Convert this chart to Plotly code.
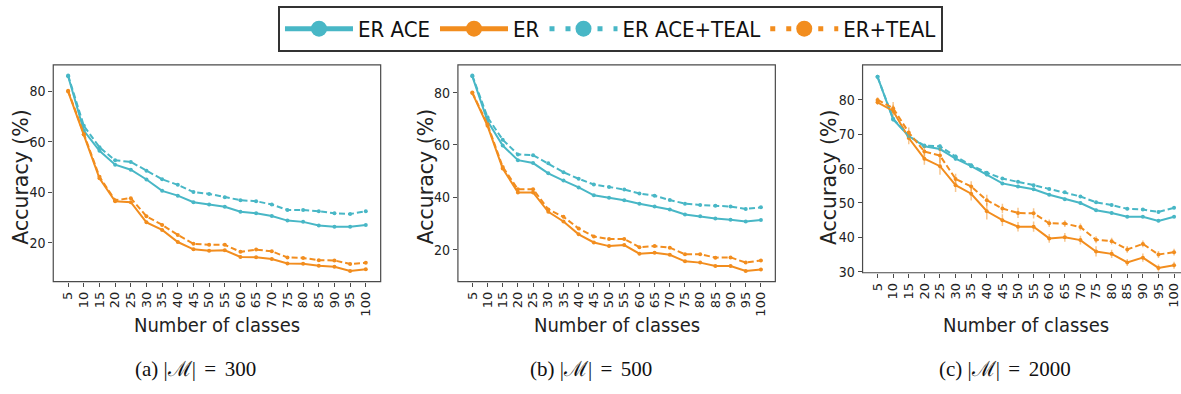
import plotly.graph_objects as go

classes = [5, 10, 15, 20, 25, 30, 35, 40, 45, 50, 55, 60, 65, 70, 75, 80, 85, 90, 95, 100]
tick_labels = [str(c) for c in classes]

# Panel (a) |M| = 300
a_er_ace = [86.1, 64.5, 56.5, 51.0, 49.0, 45.1, 40.6, 38.7, 36.1, 35.2, 34.3, 32.3, 31.7, 30.6, 28.8, 28.3, 26.9, 26.4, 26.4, 27.1]
a_er = [80.0, 63.0, 45.6, 36.5, 36.1, 28.1, 25.1, 20.3, 17.4, 16.8, 17.0, 14.4, 14.3, 13.6, 11.8, 11.7, 10.9, 10.5, 8.8, 9.5]
a_er_ace_teal = [86.4, 66.4, 57.9, 52.7, 52.1, 48.6, 45.2, 43.0, 40.1, 39.4, 38.1, 36.9, 36.5, 35.2, 33.0, 33.0, 32.5, 31.7, 31.4, 32.5]
a_er_teal = [80.3, 63.1, 46.2, 36.9, 37.7, 30.5, 27.1, 23.1, 19.6, 19.2, 19.2, 16.4, 17.3, 16.6, 14.2, 14.0, 13.1, 13.0, 11.6, 12.1]

# Panel (b) |M| = 500
b_er_ace = [86.2, 69.1, 59.8, 54.2, 53.1, 49.2, 46.4, 43.8, 40.8, 39.9, 38.9, 37.6, 36.5, 35.4, 33.5, 32.8, 31.9, 31.5, 30.8, 31.4]
b_er = [79.8, 67.3, 51.0, 41.9, 41.9, 34.5, 30.8, 25.9, 22.8, 21.4, 21.8, 18.5, 18.9, 18.1, 15.6, 15.1, 13.8, 13.8, 11.9, 12.5]
b_er_ace_teal = [86.5, 70.6, 62.0, 56.4, 56.1, 53.0, 49.6, 47.1, 44.9, 44.0, 43.0, 41.5, 40.6, 39.0, 37.6, 37.1, 36.8, 36.5, 35.6, 36.2]
b_er_teal = [80.0, 67.9, 51.6, 43.1, 43.1, 35.4, 32.6, 28.1, 25.1, 24.1, 24.1, 21.0, 21.4, 20.8, 18.3, 18.3, 17.0, 17.1, 15.1, 15.9]

# Panel (c) |M| = 2000
c_er_ace = [86.7, 74.3, 69.5, 66.5, 65.7, 62.9, 60.7, 58.3, 55.7, 54.8, 54.0, 52.4, 51.1, 50.0, 47.9, 47.1, 46.0, 46.0, 44.8, 46.0]
c_er = [79.3, 76.8, 68.9, 62.9, 60.7, 55.2, 52.7, 47.6, 45.0, 43.1, 43.1, 39.7, 40.0, 39.2, 35.9, 35.2, 32.7, 34.1, 31.1, 31.9]
c_er_ace_teal = [86.7, 74.5, 69.5, 66.7, 66.5, 63.5, 61.0, 58.8, 57.1, 56.2, 55.2, 54.1, 53.1, 51.9, 50.2, 49.4, 48.3, 48.1, 47.4, 48.6]
c_er_teal = [80.0, 77.6, 70.5, 65.0, 63.8, 57.0, 54.8, 50.8, 48.4, 47.1, 47.0, 44.1, 44.0, 43.0, 39.3, 38.9, 36.5, 38.1, 35.0, 35.7]

# error estimates (std)
a_err_small = [0.4] * 20
c_err_teal = [0.5, 0.6, 0.6, 0.5, 0.6, 0.6, 0.5, 0.5, 0.4, 0.4, 0.4, 0.4, 0.4, 0.4, 0.4, 0.4, 0.4, 0.4, 0.4, 0.4]
c_err_er = [0.8, 1.8, 1.8, 1.8, 2.5, 2.0, 2.0, 2.4, 1.7, 1.4, 1.5, 1.3, 1.3, 1.3, 1.5, 1.2, 1.0, 1.2, 1.0, 1.0]
c_err_er_teal = [0.8, 1.8, 1.5, 1.5, 2.2, 1.5, 1.5, 1.6, 1.4, 1.5, 1.5, 1.1, 1.0, 1.0, 1.0, 1.0, 1.0, 1.0, 1.0, 1.0]

series_names = ["ER ACE", "ER", "ER ACE+TEAL", "ER+TEAL"]
captions = ["(a) |ℳ|\u2009\u2009=\u2009\u2009300", "(b) |ℳ|\u2009\u2009=\u2009\u2009500", "(c) |ℳ|\u2009\u2009=\u2009\u20092000"]

TEAL = "#48B7C6"
ORANGE = "#F28D1E"
TEAL_ERR = "rgba(72,183,198,0.5)"
ORANGE_ERR = "rgba(242,141,30,0.5)"
AXC = "#4a4a4a"
TXT = "#222222"
FONT = "DejaVu Sans"
CFONT = "DejaVu Sans Condensed, Liberation Sans Narrow, DejaVu Sans"

W, H = 1181, 394
def px_x(v):
    return v / W
def px_y(v):
    return 1 - v / H

panels = [
    dict(data=[a_er_ace, a_er, a_er_ace_teal, a_er_teal],
         err=[a_err_small, a_err_small, a_err_small, a_err_small],
         xdom=[px_x(53.3), px_x(381)], ydom=[px_y(286.7), px_y(66)],
         xr=[0.25, 104.75], yr=[4.6, 90.6], ytv=[20, 40, 60, 80],
         ytitle_x=21, cap_x=196),
    dict(data=[b_er_ace, b_er, b_er_ace_teal, b_er_teal],
         err=[a_err_small, a_err_small, a_err_small, a_err_small],
         xdom=[px_x(458.3), px_x(776)], ydom=[px_y(286.7), px_y(66)],
         xr=[0.25, 104.75], yr=[7.85, 90.6], ytv=[20, 40, 60, 80],
         ytitle_x=426, cap_x=592),
    dict(data=[c_er_ace, c_er, c_er_ace_teal, c_er_teal],
         err=[c_err_teal, c_err_er, c_err_teal, c_err_er_teal],
         xdom=[px_x(863.3), 1.0], ydom=[px_y(277.7), px_y(66)],
         xr=[0.2, 101.9], yr=[29.7, 90.2], ytv=[30, 40, 50, 60, 70, 80],
         ytitle_x=830, cap_x=1006),
]

styles = [
    (TEAL, "solid", TEAL_ERR),
    (ORANGE, "solid", ORANGE_ERR),
    (TEAL, "6px,3px", TEAL_ERR),
    (ORANGE, "6px,3px", ORANGE_ERR),
]

fig = go.Figure()
annotations = []
shapes = []

for i, p in enumerate(panels):
    ax = "" if i == 0 else str(i + 1)
    for k, (vals, errs) in enumerate(zip(p["data"], p["err"])):
        color, dash, ecol = styles[k]
        fig.add_trace(go.Scatter(
            x=classes, y=vals, mode="lines+markers",
            line=dict(color=color, width=2, dash=dash),
            marker=dict(color=color, size=4),
            error_y=dict(type="data", array=errs, visible=True, color=ecol, thickness=1.5, width=0),
            xaxis="x" + ax, yaxis="y" + ax, showlegend=False, name=series_names[k],
        ))
    fig.layout["xaxis" + ax] = dict(
        domain=p["xdom"], range=p["xr"], anchor="y" + ax,
        tickmode="array", tickvals=classes, ticktext=tick_labels, tickangle=-90,
        ticks="outside", ticklen=4, tickcolor=AXC, showgrid=False, zeroline=False,
        showline=False, ticklabeloverflow="allow",
        tickfont=dict(family=FONT, size=13, color=TXT),
    )
    fig.layout["yaxis" + ax] = dict(
        domain=p["ydom"], range=p["yr"], anchor="x" + ax,
        tickmode="array", tickvals=p["ytv"],
        ticks="outside", ticklen=4, tickcolor=AXC, showgrid=False, zeroline=False,
        showline=False, tickfont=dict(family=CFONT, size=14, color=TXT),
    )
    x1 = 1.1 if i == 2 else 1
    shapes.append(dict(type="rect", xref="x" + ax + " domain", yref="y" + ax + " domain",
                       x0=0, x1=x1, y0=0, y1=1, line=dict(color=AXC, width=1.2), layer="above"))
    xmid = (p["xdom"][0] + (p["xdom"][1] if i < 2 else px_x(1189.8))) / 2
    annotations.append(dict(text="Number of classes", x=xmid, y=px_y(331), xref="paper", yref="paper",
                            showarrow=False, xanchor="center", yanchor="middle",
                            font=dict(family=CFONT, size=20, color=TXT)))
    annotations.append(dict(text="Accuracy (%)", x=px_x(p["ytitle_x"]), y=px_y(180), xref="paper", yref="paper",
                            showarrow=False, xanchor="center", yanchor="middle", textangle=-90,
                            font=dict(family=FONT, size=20.5, color=TXT)))
    annotations.append(dict(text=captions[i], x=px_x(p["cap_x"]), y=px_y(376), xref="paper", yref="paper",
                            showarrow=False, xanchor="center", yanchor="middle",
                            font=dict(family="Liberation Serif", size=21, color="#111111")))

# legend-only traces
for k, name in enumerate(series_names):
    color, dash, _ = styles[k]
    fig.add_trace(go.Scatter(
        x=[None], y=[None], mode="lines+markers", name=name,
        line=dict(color=color, width=5, dash="solid" if dash == "solid" else "5px,11px"),
        marker=dict(color=color, size=16),
    ))

fig.update_layout(
    width=W, height=H, margin=dict(l=0, r=0, t=0, b=0),
    paper_bgcolor="white", plot_bgcolor="white",
    showlegend=True,
    legend=dict(orientation="h", x=px_x(611), xanchor="center", y=px_y(6), yanchor="top",
                bordercolor="#333333", borderwidth=2, bgcolor="white",
                font=dict(family=CFONT, size=22, color="#111111"),
                itemwidth=68, tracegroupgap=0),
    annotations=annotations, shapes=shapes,
)

fig.write_html("out.html")
